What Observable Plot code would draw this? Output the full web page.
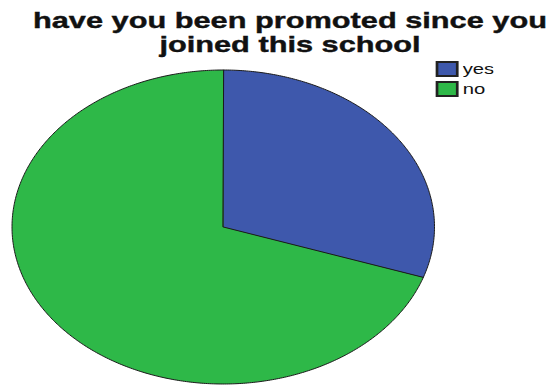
<!DOCTYPE html>
<html><head><meta charset="utf-8">
<script src="https://cdn.jsdelivr.net/npm/d3@7"></script>
<script src="https://cdn.jsdelivr.net/npm/@observablehq/plot@0.6"></script>
<style>
html,body{margin:0;padding:0;background:#fff;}
body{width:551px;height:387px;overflow:hidden;position:relative;font-family:"Liberation Sans",Arial,sans-serif;}
#chart{position:absolute;left:0;top:0;}
#title{position:absolute;left:0;top:9.4px;width:580px;text-align:center;font-weight:bold;font-size:22px;line-height:24px;color:#111;transform-origin:290px 0;white-space:nowrap;-webkit-text-stroke:0.4px #111;}
#legend{position:absolute;left:437px;top:60px;transform-origin:0 0;}
#legend svg{margin-right:4px !important;}
#legend svg rect{stroke:#222;stroke-width:2;}
</style></head><body>
<div id="chart"></div>
<div id="title"></div>
<div id="legend"></div>
<script>
const titleLines = ["have you been promoted since you", "joined this school"];
const categories = ["yes", "no"];
const values = [30.2, 69.8];
const colors = ["#3E58AC", "#2EB848"];

// slice outlines from the pie angles (12 o'clock, clockwise)
const arcs = d3.pie().sort(null)(values);
const pts = [];
arcs.forEach((a, i) => {
  const cat = categories[i];
  pts.push({cat, x: 0, y: 0});
  const n = Math.max(2, Math.ceil((a.endAngle - a.startAngle) / 0.01));
  for (let k = 0; k <= n; k++) {
    const t = a.startAngle + (a.endAngle - a.startAngle) * k / n;
    pts.push({cat, x: Math.sin(t), y: Math.cos(t)});
  }
});

const chart = Plot.plot({
  width: 551, height: 387,
  marginLeft: 11.5, marginRight: 117, marginTop: 69.5, marginBottom: 3.5,
  x: {domain: [-1, 1], axis: null},
  y: {domain: [-1, 1], axis: null},
  color: {domain: categories, range: colors},
  marks: [
    Plot.line(pts, {x: "x", y: "y", z: "cat", fill: "cat", stroke: "#1a1a1a", strokeWidth: 1, curve: "linear-closed", strokeLinejoin: "round"})
  ]
});
document.getElementById("chart").append(chart);

const t = document.getElementById("title");
titleLines.forEach((s, i) => {
  const sp = document.createElement("span");
  sp.textContent = s;
  t.append(sp);
  if (i < titleLines.length - 1) t.append(document.createElement("br"));
});
const w = t.querySelector("span").getBoundingClientRect().width;
t.style.transform = `scaleX(${514 / w})`;

const leg = Plot.legend({
  color: {domain: categories, range: colors},
  legend: "swatches",
  columns: 1,
  swatchWidth: 15,
  swatchHeight: 14,
  style: {fontSize: "15px", fontFamily: "'Liberation Sans', Arial, sans-serif", lineHeight: "18.5px", color: "#111", margin: "0"}
});
const L = document.getElementById("legend");
L.append(leg);
L.style.transform = "scaleX(1.35)";
</script>
</body></html>
